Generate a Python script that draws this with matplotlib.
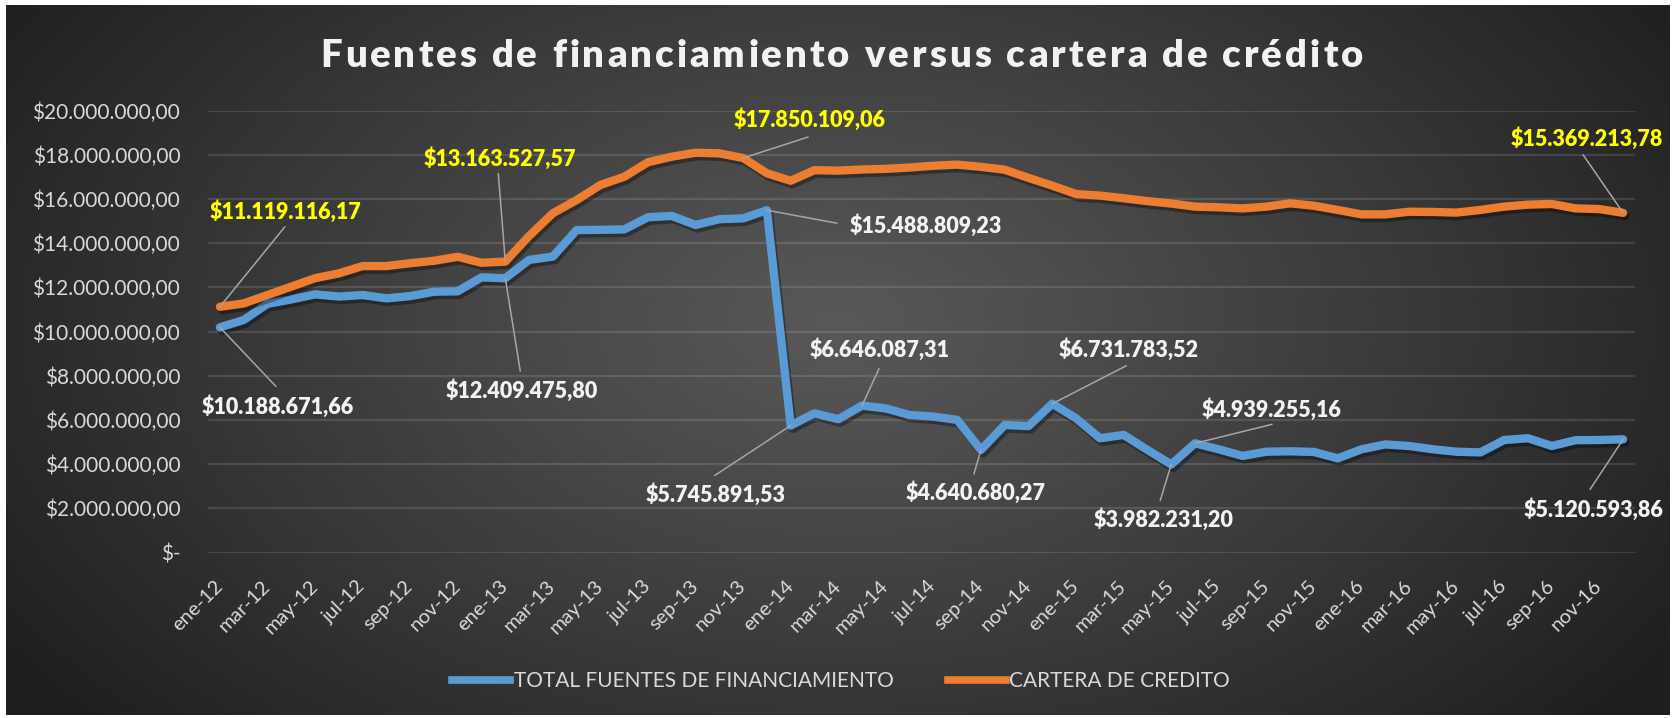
import numpy as np
import matplotlib
matplotlib.use('Agg')
import matplotlib.pyplot as plt
import matplotlib.patheffects as pe
from matplotlib.lines import Line2D

plt.rcParams['font.family'] = ['Lato', 'DejaVu Sans']

# ---------------- data ----------------
months = ['ene', 'feb', 'mar', 'abr', 'may', 'jun', 'jul', 'ago', 'sep', 'oct', 'nov', 'dic']
years = ['12', '13', '14', '15', '16']
categories = [f'{m}-{y}' for y in years for m in months]

fuentes = [
    10188671.66, 10520000, 11250000, 11450000, 11680000, 11580000, 11650000, 11500000,
    11600000, 11800000, 11820000, 12450000,
    12409475.80, 13240000, 13390000, 14590000, 14600000, 14620000, 15170000, 15230000,
    14820000, 15080000, 15120000, 15488809.23,
    5745891.53, 6300000, 6030000, 6646087.31, 6520000, 6220000, 6150000, 6000000,
    4640680.27, 5770000, 5720000, 6731783.52,
    6070000, 5170000, 5320000, 4640000, 3982231.20, 4939255.16, 4670000, 4370000,
    4560000, 4580000, 4550000, 4260000,
    4670000, 4890000, 4820000, 4670000, 4560000, 4530000, 5090000, 5170000,
    4820000, 5080000, 5090000, 5120593.86,
]
cartera = [
    11119116.17, 11270000, 11650000, 12030000, 12410000, 12630000, 12960000, 12960000,
    13090000, 13200000, 13380000, 13110000,
    13163527.57, 14320000, 15350000, 15950000, 16630000, 17000000, 17660000, 17910000,
    18090000, 18060000, 17850109.06, 17160000,
    16820000, 17300000, 17280000, 17330000, 17360000, 17420000, 17500000, 17550000,
    17450000, 17320000, 16950000, 16600000,
    16220000, 16150000, 16030000, 15900000, 15790000, 15650000, 15620000, 15570000,
    15650000, 15800000, 15690000, 15500000,
    15300000, 15300000, 15420000, 15410000, 15380000, 15500000, 15650000, 15740000,
    15770000, 15570000, 15540000, 15369213.78,
]
series_names = ['TOTAL FUENTES DE FINANCIAMIENTO', 'CARTERA DE CREDITO']
title_text = 'Fuentes de financiamiento versus cartera de crédito'
y_ticks = [0, 2e6, 4e6, 6e6, 8e6, 10e6, 12e6, 14e6, 16e6, 18e6, 20e6]

# labelled points: index -> (text offset px, leader end offset px)
labels_fuentes = {
    0: ((58, -79), (56, -59)),
    12: ((16, -112), (15, -93)),
    23: ((159, -15), (70, -13)),
    24: ((-75, -69), (-76, -50)),
    27: ((18, 56), (17, 37)),
    32: ((-5, -43), (-7, -24)),
    35: ((76, 54), (74, 38)),
    40: ((-8, -55), (-11, -36)),
    41: ((77, 34), (77, 19)),
    59: ((-30, -70), (-33, -50)),
}
labels_cartera = {
    0: ((66, 95), (65, 80)),
    12: ((-5, 103), (-7, 88)),
    22: ((66, 38), (65, 21)),
    59: ((-36, 74), (-40, 58)),
}


def money(v):
    s = f'{v:,.2f}'
    s = s.replace(',', 'X').replace('.', ',').replace('X', '.')
    return '$' + s


# ---------------- figure ----------------
W, H, DPI = 1673, 718, 100
fig = plt.figure(figsize=(W / DPI, H / DPI), dpi=DPI)
fig.patch.set_facecolor('white')

# background radial gradient
bg = fig.add_axes([6 / W, 3 / H, 1664 / W, 710 / H])
bg.set_axis_off()
nx, ny = 500, 220
X, Y = np.meshgrid(np.linspace(0, 1, nx), np.linspace(0, 1, ny))
d = np.sqrt(((X - 0.5) / 0.60) ** 2 + ((Y - 0.55) / 0.85) ** 2)
t = np.clip(d, 0, 1) ** 1.1
c0, c1 = 0x58 / 255, 0x1f / 255
g = c0 * (1 - t) + c1 * t
img = np.dstack([g, g, g])
bg.imshow(img, extent=[0, 1, 0, 1], aspect='auto', origin='lower', interpolation='bilinear')
bg.set_xlim(0, 1)
bg.set_ylim(0, 1)

ax = fig.add_axes([208 / W, 1 - 552.5 / H, (1635 - 208) / W, (552.5 - 110.5) / H])
ax.patch.set_alpha(0)
x = np.arange(len(categories))

shadow = [pe.SimpleLineShadow(offset=(1.5, -2.5), shadow_color='black', alpha=0.35), pe.Normal()]
ax.plot(x, fuentes, color='#5B9BD5', lw=6, solid_joinstyle='round', solid_capstyle='round',
        path_effects=shadow, label=series_names[0], zorder=3)
ax.plot(x, cartera, color='#ED7D31', lw=6, solid_joinstyle='round', solid_capstyle='round',
        path_effects=shadow, label=series_names[1], zorder=3)

ax.set_xlim(-0.5, len(categories) - 0.5)
ax.set_ylim(0, 20e6)
ax.set_yticks(y_ticks)
ax.set_yticklabels(['$-' if v == 0 else money(v) for v in y_ticks])
ax.yaxis.grid(True, color='white', alpha=0.12, lw=1.6)
ax.set_axisbelow(True)
for s in ax.spines.values():
    s.set_visible(False)
ax.tick_params(axis='y', length=0, pad=20, labelsize=15, labelcolor='#d9d9d9')
ax.set_xticks(x[::2])
ax.set_xticklabels(categories[::2], rotation=45, ha='right', va='center', rotation_mode='anchor')
ax.tick_params(axis='x', length=0, pad=22, labelsize=14.5, labelcolor='#d9d9d9')

leader_color = '#a6a6a6'
for series, labs, col in [(fuentes, labels_fuentes, '#F2F2F2'), (cartera, labels_cartera, '#FFFF00')]:
    for i, (toff, loff) in labs.items():
        v = series[i]
        ax.annotate('', xy=(i, v), xytext=loff, textcoords='offset pixels',
                    arrowprops=dict(arrowstyle='-', color=leader_color, lw=1.1,
                                    shrinkA=0, shrinkB=0), zorder=4)
        ax.annotate(money(v), xy=(i, v), xytext=toff, textcoords='offset pixels',
                    ha='center', va='center', fontsize=15.5, fontweight='heavy', color=col, zorder=5)

# legend
handles = [Line2D([0], [0], color='#5B9BD5', lw=5.5), Line2D([0], [0], color='#ED7D31', lw=5.5)]
leg = fig.legend(handles, series_names, loc='center', bbox_to_anchor=(841 / W, 1 - 681 / H),
                 ncol=2, frameon=False, fontsize=15, handlelength=2.8, handletextpad=0.15,
                 columnspacing=2.6, labelcolor='#d9d9d9')

# title with letter spacing
renderer = fig.canvas.get_renderer()
tkw = dict(fontsize=27.5, fontweight='heavy', color='#F2F2F2')


def wid(s):
    tt = fig.text(0, 0, s, **tkw)
    w = tt.get_window_extent(renderer=renderer).width
    tt.remove()
    return w


left_px, right_px, base_px = 320, 1363, 67
total = wid(title_text)
n = len(title_text)
extra = ((right_px - left_px) - total) / (n - 1)
for k, ch in enumerate(title_text):
    if ch == ' ':
        continue
    lk = wid(title_text[:k + 1]) - wid(ch)
    fig.text((left_px + lk + k * extra) / W, 1 - base_px / H, ch, ha='left', va='baseline', **tkw)

fig.savefig('out.png', dpi=DPI, facecolor='white')
